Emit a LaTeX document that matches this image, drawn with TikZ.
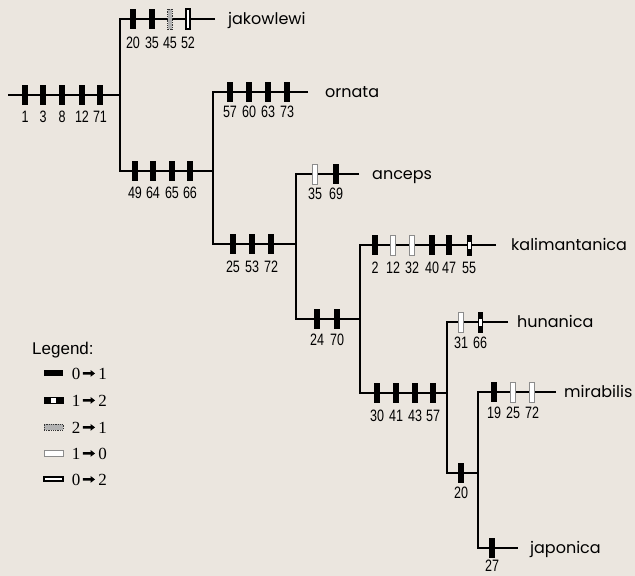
\documentclass[tikz,border=0pt]{standalone}
\usepackage{fontspec}
\usetikzlibrary{arrows.meta}
\newfontfamily\taxfont{Poppins}
\newfontfamily\numfont[FakeStretch=0.76]{Liberation Sans}
\newfontfamily\legfont{Liberation Sans}
\newfontfamily\lserif{Liberation Serif}
\definecolor{bgc}{RGB}{235,230,223}
\tikzset{
  tree/.style={line width=1.7pt, line join=miter},
  mkbase/.style={rectangle, inner sep=0pt, minimum width=5.5pt, minimum height=20pt},
  m01/.style={mkbase, fill=black},
  m10/.style={mkbase, fill=white, draw=black!45, line width=0.6pt, minimum width=4.5pt},
  m21/.style={mkbase, fill=black!30, draw=black!80, line width=0.6pt, dash pattern=on 1pt off 0.8pt, minimum width=4.5pt},
  m02/.style={mkbase, fill=white, draw=black, line width=1.4pt, minimum width=4pt},
  m12/.style={mkbase, fill=white, draw=black, line width=0.5pt, minimum width=4.5pt,
    path picture={\fill[black] (path picture bounding box.north west) rectangle ([yshift=-7pt]path picture bounding box.north east);
      \fill[black] ([yshift=6pt]path picture bounding box.south west) rectangle (path picture bounding box.south east);}},
  lmkbase/.style={rectangle, inner sep=0pt, minimum width=19pt, minimum height=6pt},
  l01/.style={lmkbase, fill=black},
  l12/.style={lmkbase, fill=white, draw=black, line width=0.5pt,
    path picture={\fill[black] (path picture bounding box.north west) rectangle ([xshift=7pt]path picture bounding box.south west);
      \fill[black] ([xshift=-7pt]path picture bounding box.north east) rectangle (path picture bounding box.south east);}},
  l21/.style={lmkbase, fill=black!30, draw=black!80, line width=0.6pt, dash pattern=on 1pt off 0.8pt},
  l10/.style={lmkbase, fill=white, draw=black!45, line width=0.6pt},
  l02/.style={lmkbase, fill=white, draw=black, line width=1.5pt, minimum height=4pt},
  num/.style={font=\numfont\fontsize{16.5}{16.5}\selectfont, inner sep=0pt},
  tax/.style={font=\taxfont\fontsize{16}{18}\selectfont, anchor=base west, inner sep=0pt},
  legt/.style={font=\legfont\fontsize{17}{18}\selectfont, anchor=base west, inner sep=0pt},
  lnum/.style={font=\lserif\fontsize{17}{18}\selectfont, anchor=base, inner sep=0pt},
  larr/.style={-{Triangle[length=4.5pt,width=6.5pt]}, line width=2.6pt, shorten <=2.5pt, shorten >=3pt}
}
\newcommand\mkA[6]{\node[#1] (#2) at (#3,#4) {}; \node[num] (#2n) at (#3,#6) {#5};}
\begin{document}
\begin{tikzpicture}[x=1pt,y=-1pt]
\fill[bgc] (0,0) rectangle (635,576);
\useasboundingbox (0,0) rectangle (635,576);
% junction coordinates
\coordinate (R0) at (8,95);
\coordinate (J1) at (120,95);
\coordinate (V1t) at (120,19);
\coordinate (V1b) at (120,171);
\coordinate (Ejak) at (215,19);
\coordinate (J2) at (213,171);
\coordinate (V2t) at (213,92);
\coordinate (V2b) at (213,244);
\coordinate (Eorn) at (308,92);
\coordinate (J3) at (296,244);
\coordinate (V3t) at (296,174);
\coordinate (V3b) at (296,319);
\coordinate (Eanc) at (359,174);
\coordinate (J4) at (360,319);
\coordinate (V4t) at (360,245);
\coordinate (V4b) at (360,393);
\coordinate (Ekal) at (496,245);
\coordinate (J5) at (447,393);
\coordinate (V5t) at (447,322);
\coordinate (V5b) at (447,473);
\coordinate (Ehun) at (508,322);
\coordinate (J6) at (478,473);
\coordinate (V6t) at (478,392);
\coordinate (V6b) at (478,548);
\coordinate (Emir) at (556,392);
\coordinate (Ejap) at (518,548);
% tree
\draw[tree] (R0) -- (J1);
\draw[tree] (Ejak) -- (V1t) -- (V1b) -- (J2);
\draw[tree] (Eorn) -- (V2t) -- (V2b) -- (J3);
\draw[tree] (Eanc) -- (V3t) -- (V3b) -- (J4);
\draw[tree] (Ekal) -- (V4t) -- (V4b) -- (J5);
\draw[tree] (Ehun) -- (V5t) -- (V5b) -- (J6);
\draw[tree] (Emir) -- (V6t) -- (V6b) -- (Ejap);
% root marks
\mkA{m01}{r1}{25}{95}{1}{117}
\mkA{m01}{r2}{43}{95}{3}{117}
\mkA{m01}{r3}{62}{95}{8}{117}
\mkA{m01}{r4}{82}{95}{12}{117}
\mkA{m01}{r5}{100}{95}{71}{117}
% jakowlewi
\mkA{m01}{a1}{133}{19}{20}{43}
\mkA{m01}{a2}{152}{19}{35}{43}
\mkA{m21}{a3}{170}{19}{45}{43}
\mkA{m02}{a4}{188}{19}{52}{43}
% 49 64 65 66
\mkA{m01}{b1}{135}{171}{49}{193}
\mkA{m01}{b2}{153}{171}{64}{193}
\mkA{m01}{b3}{172}{171}{65}{193}
\mkA{m01}{b4}{190}{171}{66}{193}
% ornata
\mkA{m01}{c1}{230}{92}{57}{112}
\mkA{m01}{c2}{249}{92}{60}{112}
\mkA{m01}{c3}{268}{92}{63}{112}
\mkA{m01}{c4}{287}{92}{73}{112}
% 25 53 72
\mkA{m01}{d1}{233}{244}{25}{267}
\mkA{m01}{d2}{252}{244}{53}{267}
\mkA{m01}{d3}{271}{244}{72}{267}
% anceps
\mkA{m10}{e1}{315}{174}{35}{194}
\mkA{m01}{e2}{336}{174}{69}{194}
% 24 70
\mkA{m01}{f1}{317}{319}{24}{340}
\mkA{m01}{f2}{337}{319}{70}{340}
% kalimantanica
\mkA{m01}{g1}{375}{245}{2}{268}
\mkA{m10}{g2}{393}{245}{12}{268}
\mkA{m10}{g3}{412}{245}{32}{268}
\mkA{m01}{g4}{432}{245}{40}{268}
\mkA{m01}{g5}{449}{245}{47}{268}
\mkA{m12}{g6}{469}{245}{55}{268}
% 30 41 43 57
\mkA{m01}{h1}{377}{393}{30}{416}
\mkA{m01}{h2}{396}{393}{41}{416}
\mkA{m01}{h3}{415}{393}{43}{416}
\mkA{m01}{h4}{433}{393}{57}{416}
% hunanica
\mkA{m10}{i1}{461}{322}{31}{343}
\mkA{m12}{i2}{480}{322}{66}{343}
% 20
\mkA{m01}{j1}{461}{473}{20}{493}
% mirabilis
\mkA{m01}{k1}{494}{392}{19}{413}
\mkA{m10}{k2}{513}{392}{25}{413}
\mkA{m10}{k3}{532}{392}{72}{413}
% japonica
\mkA{m01}{p1}{492}{548}{27}{566}
% taxon names
\node[tax] (tjak) at (228,24) {jakowlewi};
\node[tax] (torn) at (325,97) {ornata};
\node[tax] (tanc) at (372,179) {anceps};
\node[tax] (tkal) at (511,250) {kalimantanica};
\node[tax] (thun) at (517,327) {hunanica};
\node[tax] (tmir) at (564,397) {mirabilis};
\node[tax] (tjap) at (530,553) {japonica};
% legend
\node[legt] (leg) at (32,354) {Legend:};
\node[l01] (lm1) at (53.5,373) {};
\node[lnum] (la1) at (76,379) {0};
\node[lnum] (lb1) at (102.5,379) {1};
\draw[larr] (la1) -- (lb1);
\node[l12] (lm2) at (53.5,400) {};
\node[lnum] (la2) at (76,406) {1};
\node[lnum] (lb2) at (102.5,406) {2};
\draw[larr] (la2) -- (lb2);
\node[l21] (lm3) at (53.5,427) {};
\node[lnum] (la3) at (76,433) {2};
\node[lnum] (lb3) at (102.5,433) {1};
\draw[larr] (la3) -- (lb3);
\node[l10] (lm4) at (53.5,453) {};
\node[lnum] (la4) at (76,459) {1};
\node[lnum] (lb4) at (102.5,459) {0};
\draw[larr] (la4) -- (lb4);
\node[l02] (lm5) at (53.5,479) {};
\node[lnum] (la5) at (76,485) {0};
\node[lnum] (lb5) at (102.5,485) {2};
\draw[larr] (la5) -- (lb5);
\end{tikzpicture}
\end{document}
